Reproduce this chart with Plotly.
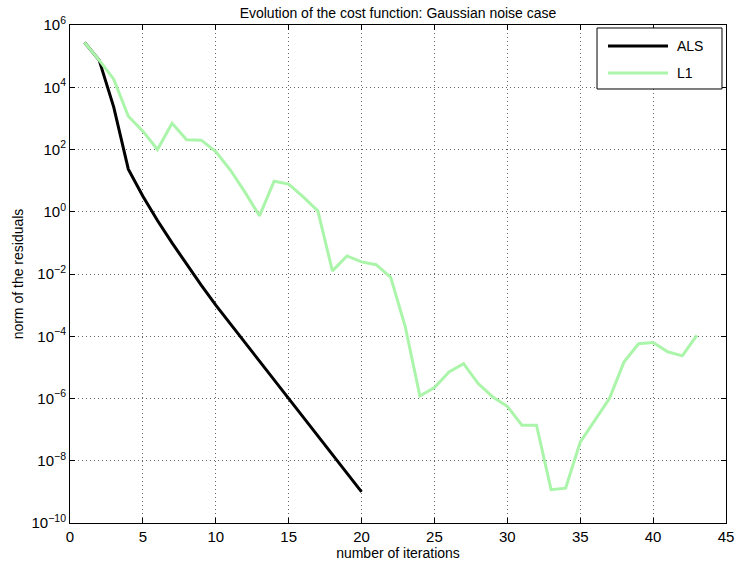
import plotly.graph_objects as go

als_iter = list(range(1, 21))
als_log = [5.44, 4.87, 3.36, 1.37, 0.5, -0.28, -1.0, -1.7, -2.36, -3.0,
           -3.6, -4.2, -4.8, -5.4, -6.0, -6.6, -7.2, -7.8, -8.4, -9.0]

l1_iter = list(range(1, 44))
l1_log = [5.44, 4.87, 4.26, 3.07, 2.59, 2.0, 2.84, 2.31, 2.30, 1.93,
          1.34, 0.63, -0.13, 0.98, 0.89, 0.48, 0.03, -1.9, -1.42, -1.61,
          -1.70, -2.11, -3.70, -5.92, -5.65, -5.15, -4.88, -5.52, -5.95, -6.25,
          -6.86, -6.86, -8.93, -8.88, -7.40, -6.68, -6.0, -4.83, -4.24, -4.20,
          -4.5, -4.63, -3.97]

als_vals = [10 ** v for v in als_log]
l1_vals = [10 ** v for v in l1_log]

series_names = ["ALS", "L1"]
series_colors = ["black", "#aaf5aa"]

ytick_exp = list(range(-10, 7, 2))
ytick_vals = [10.0 ** e for e in ytick_exp]
ytick_text = ["10<sup>%s</sup>" % (str(e).replace("-", "\u2212")) for e in ytick_exp]

font_family = "Liberation Sans, Arial, sans-serif"

fig = go.Figure()
fig.add_trace(go.Scatter(x=als_iter, y=als_vals, mode="lines", name=series_names[0],
                         line=dict(color=series_colors[0], width=3)))
fig.add_trace(go.Scatter(x=l1_iter, y=l1_vals, mode="lines", name=series_names[1],
                         line=dict(color=series_colors[1], width=3)))

axis_common = dict(showline=True, linecolor="black", linewidth=1, mirror="ticks",
                   ticks="inside", ticklen=5, tickcolor="black", automargin=False,
                   showgrid=True, gridcolor="#666666", griddash="1px,3px", gridwidth=1,
                   zeroline=False, tickfont=dict(size=15, color="black", family=font_family))

# custom legend box (paper coordinates)
lg_x0, lg_x1, lg_y0, lg_y1 = 0.8034, 0.9939, 0.8715, 0.994
lg_line_x0, lg_line_x1, lg_text_x = 0.8201, 0.9116, 0.9223
lg_rows_y = [0.9578, 0.9036]

shapes = [dict(type="rect", xref="paper", yref="paper", x0=lg_x0, x1=lg_x1, y0=lg_y0, y1=lg_y1,
               line=dict(color="black", width=1), fillcolor="white", layer="above")]
annotations = []
for name, color, yy in zip(series_names, series_colors, lg_rows_y):
    shapes.append(dict(type="line", xref="paper", yref="paper", x0=lg_line_x0, x1=lg_line_x1,
                       y0=yy, y1=yy, line=dict(color=color, width=3), layer="above"))
    annotations.append(dict(xref="paper", yref="paper", x=lg_text_x, y=yy, text=name,
                            showarrow=False, xanchor="left", yanchor="middle",
                            font=dict(size=14, color="black", family=font_family)))

fig.update_layout(
    width=735, height=565,
    margin=dict(l=70, r=9, t=25, b=42),
    paper_bgcolor="white", plot_bgcolor="white",
    font=dict(family=font_family, size=14, color="black"),
    title=dict(text="Evolution of the cost function: Gaussian noise case",
               xref="paper", x=0.5, xanchor="center", y=0.985, yanchor="top",
               font=dict(size=14, family=font_family)),
    xaxis=dict(range=[0, 45], dtick=5, tick0=0,
               title=dict(text="number of iterations", standoff=2, font=dict(size=14)),
               **axis_common),
    yaxis=dict(type="log", range=[-10, 6], tickvals=ytick_vals, ticktext=ytick_text,
               title=dict(text="norm of the residuals", standoff=4, font=dict(size=14)),
               **axis_common),
    shapes=shapes,
    annotations=annotations,
    showlegend=False,
)

fig.write_html("out.html")
